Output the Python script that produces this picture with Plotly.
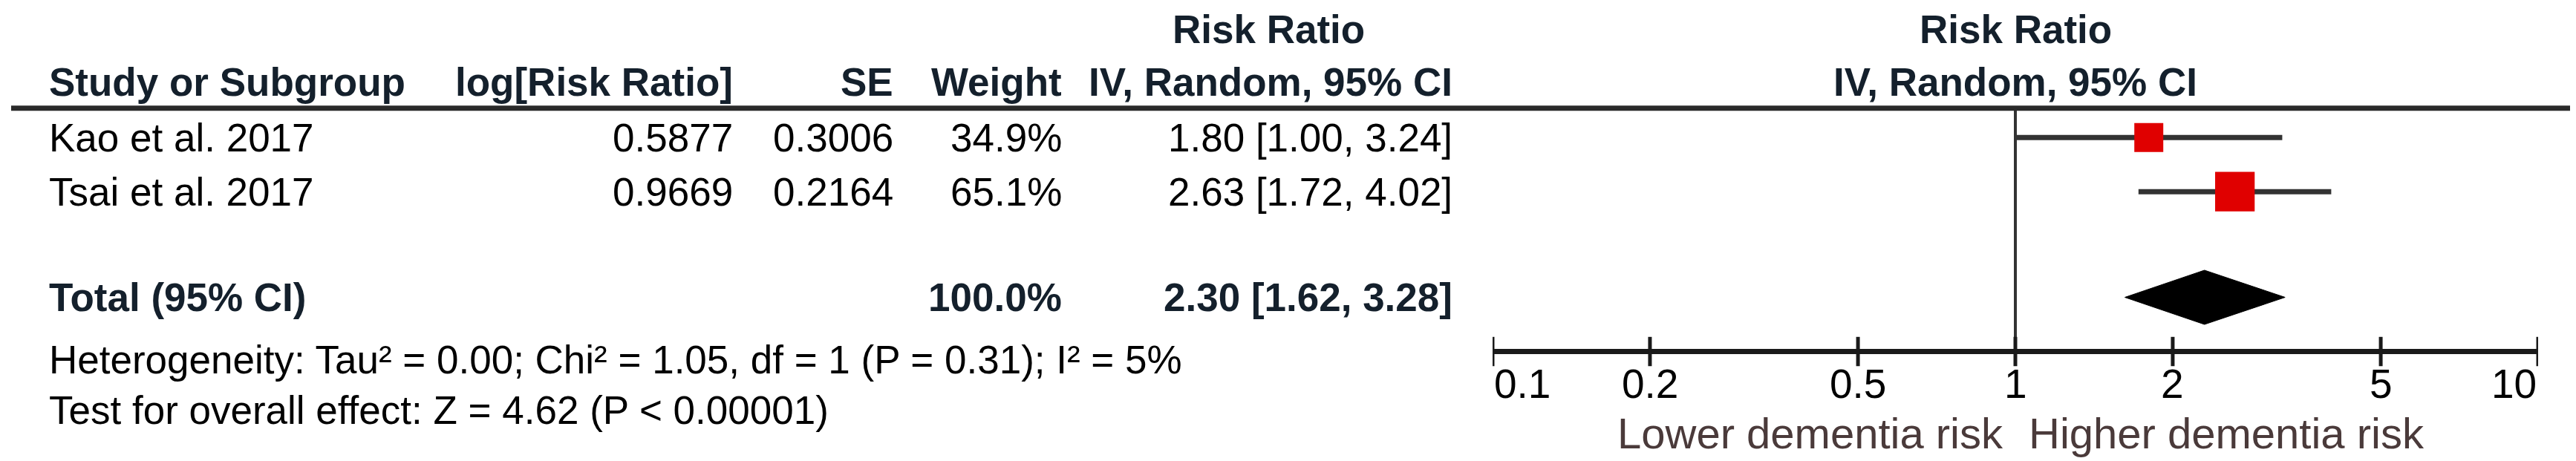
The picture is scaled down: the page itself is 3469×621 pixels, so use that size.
import math
import plotly.graph_objects as go

# ---------------- data ----------------
studies = ["Kao et al. 2017", "Tsai et al. 2017"]
log_rr = [0.5877, 0.9669]
se = [0.3006, 0.2164]
weight = [34.9, 65.1]
rr = [1.80, 2.63]
ci_lo = [1.00, 1.72]
ci_hi = [3.24, 4.02]

total_label = "Total (95% CI)"
total_weight = 100.0
total_rr = 2.30
total_lo = 1.62
total_hi = 3.28

heterogeneity = "Heterogeneity: Tau² = 0.00; Chi² = 1.05, df = 1 (P = 0.31); I² = 5%"
overall = "Test for overall effect: Z = 4.62 (P < 0.00001)"

col_headers = ["Study or Subgroup", "log[Risk Ratio]", "SE", "Weight", "IV, Random, 95% CI"]
group_header = "Risk Ratio"
plot_header = ["Risk Ratio", "IV, Random, 95% CI"]

tick_vals = [0.1, 0.2, 0.5, 1, 2, 5, 10]
tick_labels = ["0.1", "0.2", "0.5", "1", "2", "5", "10"]
favours = ["Lower dementia risk", "Higher dementia risk"]

# ---------------- layout constants ----------------
W, H = 3469, 621
FONT = "Liberation Sans, Arial, sans-serif"
FS = 53
HEAD_C = "#14202c"
TXT_C = "#000000"

def px(x):
    return x / W

# row positions (row units; 1 row = 73 px)
R_HEAD1, R_HEAD2, R_LINE = -2.08, -1.1, -0.62
R_STUDY = [-0.08, 0.92]
R_TOTAL = 2.87
R_HET, R_TEST = 4.02, 4.95
R_AXIS = 3.87
R_TICK0, R_TICK1 = 3.6, 4.14
R_TICKLAB = 4.47
R_FAV = 5.37

# column anchors (pixels)
X_STUDY = 56
X_LOG = 981
X_SE = 1197
X_WT = 1424
X_CI = 1950
X_RRHEAD = 1700

fig = go.Figure()

# whiskers
for i in range(len(studies)):
    fig.add_trace(go.Scatter(x=[ci_lo[i], ci_hi[i]], y=[R_STUDY[i]] * 2, mode="lines",
                             line=dict(color="#333333", width=7), hoverinfo="skip",
                             showlegend=False))
# squares
fig.add_trace(go.Scatter(x=rr, y=R_STUDY, mode="markers",
                         marker=dict(symbol="square", color="#E00000", opacity=1,
                                     size=[6.6 * w ** 0.5 for w in weight], line=dict(width=0)),
                         hoverinfo="skip", showlegend=False))
# diamond
dh = 0.5
fig.add_trace(go.Scatter(x=[total_lo, total_rr, total_hi, total_rr, total_lo],
                         y=[R_TOTAL, R_TOTAL - dh, R_TOTAL, R_TOTAL + dh, R_TOTAL],
                         mode="lines", fill="toself", fillcolor="#000000",
                         line=dict(color="#000000", width=1), hoverinfo="skip", showlegend=False))
# vertical line of no effect
fig.add_trace(go.Scatter(x=[1, 1], y=[R_LINE, R_AXIS], mode="lines",
                         line=dict(color="#333333", width=4), hoverinfo="skip", showlegend=False))
# axis line
fig.add_trace(go.Scatter(x=[tick_vals[0], tick_vals[-1]], y=[R_AXIS, R_AXIS], mode="lines",
                         line=dict(color="#1a1a1a", width=7), hoverinfo="skip", showlegend=False))
# ticks
for tv in tick_vals:
    fig.add_trace(go.Scatter(x=[tv, tv], y=[R_TICK0, R_TICK1], mode="lines",
                             line=dict(color="#1a1a1a", width=5), hoverinfo="skip",
                             showlegend=False))

# header line
fig.add_shape(type="line", xref="paper", yref="y", x0=px(7), x1=px(3458), y0=R_LINE, y1=R_LINE,
              line=dict(color="#2a2a2a", width=7))

ann = []

def text(x, y, s, anchor="left", bold=False, color=TXT_C, xref="paper", size=FS, xshift=0):
    # annotations on a log axis take log10 positions
    xx = math.log10(x) if xref == "x" else x
    ann.append(dict(x=xx, y=y, xref=xref, yref="y", text=("<b>%s</b>" % s) if bold else s,
                    showarrow=False, xanchor=anchor, yanchor="middle", xshift=xshift,
                    font=dict(family=FONT, size=size, color=color)))

# headers
text(px(X_RRHEAD), R_HEAD1, group_header, "center", True, HEAD_C)
text(px(X_STUDY), R_HEAD2, col_headers[0], "left", True, HEAD_C)
text(px(X_LOG), R_HEAD2, col_headers[1], "right", True, HEAD_C)
text(px(X_SE), R_HEAD2, col_headers[2], "right", True, HEAD_C)
text(px(X_WT), R_HEAD2, col_headers[3], "right", True, HEAD_C)
text(px(X_CI), R_HEAD2, col_headers[4], "right", True, HEAD_C)
text(1, R_HEAD1, plot_header[0], "center", True, HEAD_C, xref="x")
text(1, R_HEAD2, plot_header[1], "center", True, HEAD_C, xref="x")

# study rows
for i, s in enumerate(studies):
    r = R_STUDY[i]
    text(px(X_STUDY), r, s, "left")
    text(px(X_LOG), r, "%.4f" % log_rr[i], "right")
    text(px(X_SE), r, "%.4f" % se[i], "right")
    text(px(X_WT), r, "%.1f%%" % weight[i], "right")
    text(px(X_CI), r, "%.2f [%.2f, %.2f]" % (rr[i], ci_lo[i], ci_hi[i]), "right")

# total row
text(px(X_STUDY), R_TOTAL, total_label, "left", True, HEAD_C)
text(px(X_WT), R_TOTAL, "%.1f%%" % total_weight, "right", True, HEAD_C)
text(px(X_CI), R_TOTAL, "%.2f [%.2f, %.2f]" % (total_rr, total_lo, total_hi), "right", True, HEAD_C)

text(px(X_STUDY), R_HET, heterogeneity, "left")
text(px(X_STUDY), R_TEST, overall, "left")

# tick labels
for j, (tv, tl) in enumerate(zip(tick_vals, tick_labels)):
    anchor = "left" if j == 0 else ("right" if j == len(tick_vals) - 1 else "center")
    text(tv, R_TICKLAB, tl, anchor, xref="x", size=FS + 2)

# favours labels
fav_c = "#4a3a3a"
text(1, R_FAV, favours[0], "right", color=fav_c, xref="x", size=FS + 5, xshift=-14)
text(1, R_FAV, favours[1], "left", color=fav_c, xref="x", size=FS + 5, xshift=16)

fig.update_layout(
    width=W, height=H,
    margin=dict(l=0, r=0, t=0, b=0),
    paper_bgcolor="white", plot_bgcolor="white",
    annotations=ann,
    xaxis=dict(type="log", range=[-1, 1], domain=[2002 / W, 3410 / W], visible=False,
               showgrid=False, zeroline=False),
    yaxis=dict(range=[(H - 183) / 73, -183 / 73], domain=[0, 1], visible=False,
               showgrid=False, zeroline=False),
    showlegend=False,
)

fig.write_html("out.html", config={"displayModeBar": False})
